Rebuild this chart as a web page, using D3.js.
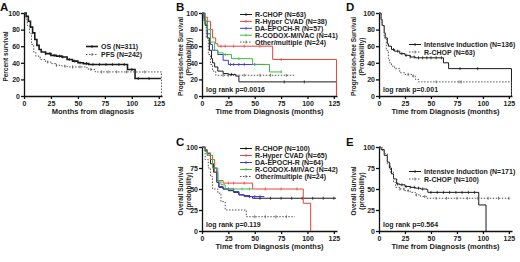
<!DOCTYPE html>
<html>
<head>
<meta charset="utf-8">
<script src="https://cdn.jsdelivr.net/npm/d3@7"></script>
<style>
body { margin: 0; background: #fff; }
text { font-family: "Liberation Sans", Arial, sans-serif; font-weight: bold; }
</style>
</head>
<body>
<div id="canvas"></div>
<script>
// ----------------------------------------------------------
// DATA -----------------------------------------------------
// ----------------------------------------------------------
var x_ticks = [0, 25, 50, 75, 100, 125];
var y_ticks_20 = [0, 20, 40, 60, 80, 100];
var y_ticks_25 = [0, 25, 50, 75, 100];

// steps: [months, survival %]
// A
var a_os = [[0,100],[2,96],[4,90],[6,83],[8,76],[10,68],[12,61],[14,56],[16,53],[20,51],[25,49],[30,48],[35,47],[40,44],[45,42],[50,40],[55,39],[60,38],[96,32],[103,21],[127,21]];
var a_pfs = [[0,100],[2,92],[3,85],[5,75],[7,62],[9,53],[11,48],[15,44],[20,41],[25,39],[30,37],[35,36],[40,35],[58,34],[60,32],[66,29],[127,29],[127.5,0]];
var a_os_c = [20,24,28,33,36,42,47,52,58,64,70,76,82,88,93,100,106,116];
var a_pfs_c = [22,30,38,45,52,62,72,78,86,95,112];

// B
var b_rchop = [[0,100],[2,92],[3,85],[5,70],[7,55],[9,45],[10,40],[12,35],[15,30],[20,27],[25,26],[32,24],[35,17],[127,17],[127.5,0]];
var b_hyper = [[0,100],[3,95],[5,90],[8,80],[10,70],[13,63],[15,60],[67,44],[127,44],[127.5,0]];
var b_epoch = [[0,100],[2,95],[3,90],[5,75],[8,62],[10,55],[15,50],[20,43],[25,38],[60,38]];
var b_codox = [[0,100],[3,90],[5,80],[8,65],[12,55],[15,52],[20,50],[28,45],[48,38],[64,29],[76,29]];
var b_other = [[0,100],[2,88],[4,70],[6,50],[8,38],[10,30],[13,25],[88,25]];
var b_rchop_c = [28,78,97];
var b_hyper_c = [18,22,30,40,55,75];
var b_epoch_c = [27,30,35,40,50];
var b_codox_c = [22,35,75];
var b_other_c = [20,25,40,55,65,80];

// C
var c_rchop = [[0,100],[3,96],[5,92],[8,80],[11,70],[14,58],[16,52],[20,50],[25,48],[30,46],[35,43],[40,42],[45,41],[48,39],[127,39]];
var c_hyper = [[0,100],[3,97],[5,93],[8,85],[12,70],[15,60],[20,57],[48,50],[96,33],[103,0]];
var c_epoch = [[0,100],[3,95],[5,90],[10,75],[14,60],[16,53],[20,50],[30,47],[35,43],[40,41],[59,41]];
var c_codox = [[0,100],[3,95],[5,90],[10,75],[15,60],[18,55],[22,50],[48,50]];
var c_other = [[0,100],[3,85],[6,75],[8,65],[10,50],[15,45],[18,35],[22,25],[42,17],[88,17]];
var c_rchop_c = [45,55,65,75,85,95,105,115,125];
var c_hyper_c = [25,30,40,60,75,90];
var c_epoch_c = [25,45,50,55];
var c_codox_c = [30,38,45];
var c_other_c = [50,60,70,80];

// D
var d_int = [[0,100],[2,92],[3,85],[5,76],[6,70],[8,63],[9,60],[12,56],[15,54],[20,51],[25,49],[30,47],[35,46],[62,40],[67,33],[127,33],[127.5,0]];
var d_rchop = [[0,100],[2,92],[3,85],[5,70],[7,55],[9,45],[10,40],[12,36],[15,33],[20,28],[25,26],[32,24],[35,20],[38,17],[127,17],[127.5,0]];
var d_int_c = [14,18,22,26,30,34,38,42,46,50,55,60,78,95];
var d_rchop_c = [28,33,55,77,79];

// E
var e_int = [[0,100],[2,97],[5,90],[8,82],[10,75],[12,68],[14,62],[17,56],[20,55],[25,53],[30,52],[35,51],[40,50],[46,49],[47,46],[96,31],[103,0]];
var e_rchop = [[0,100],[3,96],[5,92],[8,80],[11,70],[14,58],[16,52],[20,50],[25,48],[30,46],[35,43],[40,41],[46,39],[127,39]];
var e_int_c = [18,22,26,30,34,38,42,50,56,62,68,74,80,86,92];
var e_rchop_c = [20,24,28,36,44,55,65,75,85,95,105,115,125];

// ----------------------------------------------------------
// STYLE ----------------------------------------------------
// ----------------------------------------------------------
var color_black = "#1a1a1a";
var color_red = "#e8453c";
var color_blue = "#3a3ad4";
var color_green = "#3dbd3d";
var color_gray = "#555";

var svg = d3.select("#canvas").append("svg")
.attr("width", 520)
.attr("height", 262);

// ----------------------------------------------------------
// PANEL ----------------------------------------------------
// ----------------------------------------------------------
function panel(p) {
var g = svg.append("g").attr("class", "panel_" + p.letter);
var xScale = d3.scaleLinear().domain([0, 128]).range([p.left, p.left + p.w]);
var yScale = d3.scaleLinear().domain([0, 100]).range([p.bottom, p.top]);

// axes
var xAxis = d3.axisBottom(xScale).tickValues(x_ticks).tickSize(3).tickSizeOuter(0);
var gx = g.append("g").attr("transform", "translate(0," + p.bottom + ")").call(xAxis);
var yAxis = d3.axisLeft(yScale).tickValues(p.yticks).tickSize(3).tickSizeOuter(0);
var gy = g.append("g").attr("transform", "translate(" + p.left + ",0)").call(yAxis);
[gx, gy].forEach(function(a) {
a.selectAll("path, line").attr("stroke", "#111").attr("stroke-width", 1.3);
a.selectAll("text").attr("font-size", 7).attr("fill", "#222")
.style("font-family", "Liberation Sans, Arial").style("font-weight", "bold");
});
gx.selectAll("text").attr("dy", "0.75em").attr("y", 5);
gy.selectAll("text").attr("x", -4);

// curves
var line = d3.line().curve(d3.curveStepAfter)
.x(function(d) { return xScale(d[0]); })
.y(function(d) { return yScale(d[1]); });
p.series.forEach(function(s) {
g.append("path").datum(s.data).attr("d", line)
.style("fill", "none").style("stroke", s.color)
.style("stroke-width", s.width || 1)
.style("stroke-dasharray", s.dash || null);
g.selectAll(null).data(s.censor).enter().append("line")
.attr("x1", function(t) { return xScale(t); })
.attr("x2", function(t) { return xScale(t); })
.attr("y1", function(t) { return yScale(stepAt(s.data, t)) - 1.5; })
.attr("y2", function(t) { return yScale(stepAt(s.data, t)) + 1.5; })
.style("stroke", s.color).style("stroke-width", 0.8);
});

// legend
p.series.forEach(function(s, i) {
var ly = p.legend_y + i * p.legend_gap;
g.append("line")
.attr("x1", p.legend_x).attr("x2", p.legend_x + 12)
.attr("y1", ly - 2.5).attr("y2", ly - 2.5)
.style("stroke", s.color).style("stroke-width", s.width || 1)
.style("stroke-dasharray", s.dash || null);
g.append("line")
.attr("x1", p.legend_x + 6).attr("x2", p.legend_x + 6)
.attr("y1", ly - 4).attr("y2", ly - 1)
.style("stroke", s.color).style("stroke-width", 0.8);
g.append("text").attr("x", p.legend_x + 15).attr("y", ly)
.attr("font-size", 7).attr("fill", "#222").text(s.name);
});

// texts
g.append("text").attr("x", p.letter_x).attr("y", p.letter_y)
.attr("font-size", 11.5).attr("fill", "#111").text(p.letter);
var ty = g.append("text").attr("font-size", 6.5).attr("fill", "#222")
.attr("text-anchor", "middle")
.attr("transform", "translate(" + p.ylab_x + "," + ((p.top + p.bottom) / 2 + 2) + ") rotate(-90)");
p.ylab.forEach(function(t, i) {
ty.append("tspan").attr("x", 0).attr("dy", i == 0 ? 0 : 8).text(t);
});
g.append("text").attr("x", xScale(64)).attr("y", p.bottom + 18)
.attr("text-anchor", "middle").attr("font-size", 7.5).attr("fill", "#222").text(p.xlab);
if (p.logrank) {
g.append("text").attr("x", p.left + 4).attr("y", p.bottom - 4)
.attr("font-size", 7).attr("fill", "#222").text(p.logrank);
}
}

function stepAt(data, t) {
var v = data[0][1];
data.forEach(function(d) { if (d[0] <= t) v = d[1]; });
return v;
}

// ----------------------------------------------------------
// DRAW -----------------------------------------------------
// ----------------------------------------------------------
var top_1 = 13, bottom_1 = 96, top_2 = 147, bottom_2 = 231;

panel({ letter: "A", letter_x: 0, letter_y: 11, left: 24, w: 138, top: top_1, bottom: bottom_1, yticks: y_ticks_20,
ylab: ["Percent survival"], ylab_x: 8, xlab: "Months from diagnosis",
legend_x: 86, legend_y: 49, legend_gap: 8,
series: [
{ name: "OS (N=311)", data: a_os, censor: a_os_c, color: color_black, width: 1.6 },
{ name: "PFS (N=242)", data: a_pfs, censor: a_pfs_c, color: color_gray, dash: "1.5,1.5" }
]});

panel({ letter: "B", letter_x: 176, letter_y: 11, left: 202, w: 135, top: top_1, bottom: bottom_1, yticks: y_ticks_20,
ylab: ["Progression-free Survival", "(Probability)"], ylab_x: 183, xlab: "Time from Diagnosis (months)",
legend_x: 240, legend_y: 17, legend_gap: 6.9, logrank: "log rank p=0.0016",
series: [
{ name: "R-CHOP (N=63)", data: b_rchop, censor: b_rchop_c, color: color_black },
{ name: "R-Hyper CVAD (N=38)", data: b_hyper, censor: b_hyper_c, color: color_red },
{ name: "DA-EPOCH-R (N=57)", data: b_epoch, censor: b_epoch_c, color: color_blue },
{ name: "R-CODOX-M/IVAC (N=41)", data: b_codox, censor: b_codox_c, color: color_green },
{ name: "Other/multiple (N=24)", data: b_other, censor: b_other_c, color: color_gray, dash: "1.5,1.5" }
]});

panel({ letter: "D", letter_x: 346, letter_y: 11, left: 379, w: 133, top: top_1, bottom: bottom_1, yticks: y_ticks_20,
ylab: ["Progression-free Survival", "(Probability)"], ylab_x: 356, xlab: "Time from Diagnosis (months)",
legend_x: 409, legend_y: 47, legend_gap: 7.5, logrank: "log rank p=0.001",
series: [
{ name: "Intensive Induction (N=136)", data: d_int, censor: d_int_c, color: color_black },
{ name: "R-CHOP (N=63)", data: d_rchop, censor: d_rchop_c, color: color_gray, dash: "1.5,1.5" }
]});

panel({ letter: "C", letter_x: 176, letter_y: 146, left: 202, w: 135, top: top_2, bottom: bottom_2, yticks: y_ticks_25,
ylab: ["Overall Survival", "(probability)"], ylab_x: 183, xlab: "Time from Diagnosis (months)",
legend_x: 240, legend_y: 151, legend_gap: 7, logrank: "log rank p=0.119",
series: [
{ name: "R-CHOP (N=100)", data: c_rchop, censor: c_rchop_c, color: color_black },
{ name: "R-Hyper CVAD (N=65)", data: c_hyper, censor: c_hyper_c, color: color_red },
{ name: "DA-EPOCH-R (N=64)", data: c_epoch, censor: c_epoch_c, color: color_blue },
{ name: "R-CODOX-M/IVAC (N=42)", data: c_codox, censor: c_codox_c, color: color_green },
{ name: "Other/multiple (N=24)", data: c_other, censor: c_other_c, color: color_gray, dash: "1.5,1.5" }
]});

panel({ letter: "E", letter_x: 346, letter_y: 146, left: 379, w: 133, top: top_2, bottom: bottom_2, yticks: y_ticks_25,
ylab: ["Overall Survival", "(probability)"], ylab_x: 356, xlab: "Time from Diagnosis (months)",
legend_x: 409, legend_y: 174, legend_gap: 7.5, logrank: "log rank p=0.564",
series: [
{ name: "Intensive Induction (N=171)", data: e_int, censor: e_int_c, color: color_black },
{ name: "R-CHOP (N=100)", data: e_rchop, censor: e_rchop_c, color: color_gray, dash: "1.5,1.5" }
]});
</script>
</body>
</html>
